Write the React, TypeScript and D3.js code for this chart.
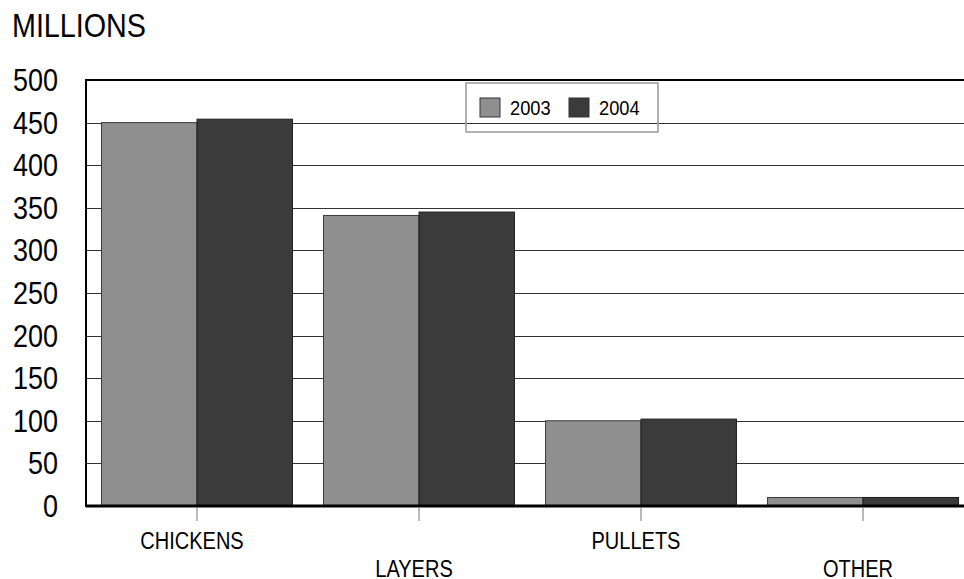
import React from "react";
import * as d3 from "d3";

const categories = ["CHICKENS", "LAYERS", "PULLETS", "OTHER"];
const seriesNames = ["2003", "2004"];
const values2003 = [450, 341, 100, 10];
const values2004 = [454, 345, 102, 10];
const yTicks = [0, 50, 100, 150, 200, 250, 300, 350, 400, 450, 500];
const title = "MILLIONS";

const colors: Record<string, string> = { "2003": "#8f8f8f", "2004": "#3b3b3b" };
const strokes: Record<string, string> = { "2003": "#3a3a3a", "2004": "#1e1e1e" };

const W = 964;
const H = 579;
const left = 86;
const top = 80;
const bottom = 506;
const right = 974;
const SX = 0.87;
const FONT = "Arial, 'Liberation Sans', Helvetica, sans-serif";

export default function App() {
  const x = d3.scaleBand<string>().domain(categories).range([left, right]).paddingInner(0.14).paddingOuter(0.07);
  const xs = d3.scaleBand<string>().domain(seriesNames).range([0, x.bandwidth()]);
  const y = d3.scaleLinear().domain([0, 500]).range([bottom, top]);
  const data = categories.map((c, i) => ({ c, vals: [values2003[i], values2004[i]] }));

  const T = (props: { x: number; y: number; size: number; anchor?: string; children: React.ReactNode }) => (
    <g transform={`translate(${props.x},${props.y}) scale(${SX},1)`}>
      <text fontFamily={FONT} fontSize={props.size} textAnchor={props.anchor || "start"} fill="#000">
        {props.children}
      </text>
    </g>
  );

  return (
    <svg width={W} height={H} style={{ position: "absolute", left: 0, top: 0, background: "#fff" }}>
      <rect x={0} y={0} width={W} height={H} fill="#fff" />
      <T x={12} y={37} size={33}>{title}</T>
      {/* grid */}
      {yTicks.filter((t) => t > 0 && t < 500).map((t) => (
        <line key={t} x1={left} x2={W} y1={Math.round(y(t)) + 0.5} y2={Math.round(y(t)) + 0.5} stroke="#333" strokeWidth={1} />
      ))}
      <line x1={left} x2={W} y1={y(500)} y2={y(500)} stroke="#000" strokeWidth={2} />
      {/* y tick labels */}
      {yTicks.map((t) => (
        <T key={t} x={58} y={y(t) + 11} size={31} anchor="end">{t}</T>
      ))}
      {/* bars */}
      {data.map((d) => (
        <g key={d.c} transform={`translate(${x(d.c)},0)`}>
          {seriesNames.map((s, j) => (
            <rect key={s} x={xs(s)} y={y(d.vals[j])} width={xs.bandwidth()} height={y(0) - y(d.vals[j])}
              fill={colors[s]} stroke={strokes[s]} strokeWidth={1} />
          ))}
        </g>
      ))}
      {/* axes */}
      <line x1={left} x2={left} y1={top - 1} y2={bottom + 1} stroke="#000" strokeWidth={2} />
      <line x1={left} x2={W} y1={bottom} y2={bottom} stroke="#000" strokeWidth={3} />
      {categories.map((c, i) => {
        const cx = (x(c) as number) + x.bandwidth() / 2;
        return (
          <g key={c}>
            <line x1={cx} x2={cx} y1={bottom + 1} y2={bottom + 15} stroke="#777" strokeWidth={1} />
            <T x={cx - 5} y={i % 2 === 0 ? 549 : 577} size={23} anchor="middle">{c}</T>
          </g>
        );
      })}
      {/* legend */}
      <rect x={466} y={83} width={192} height={49} fill="none" stroke="#9a9a9a" strokeWidth={1.5} />
      {seriesNames.map((s, j) => {
        const lx = 480 + j * 89;
        return (
          <g key={s}>
            <rect x={lx} y={98} width={20} height={19} fill={colors[s]} stroke="#333" strokeWidth={1} />
            <T x={lx + 30} y={115} size={21}>{s}</T>
          </g>
        );
      })}
    </svg>
  );
}
